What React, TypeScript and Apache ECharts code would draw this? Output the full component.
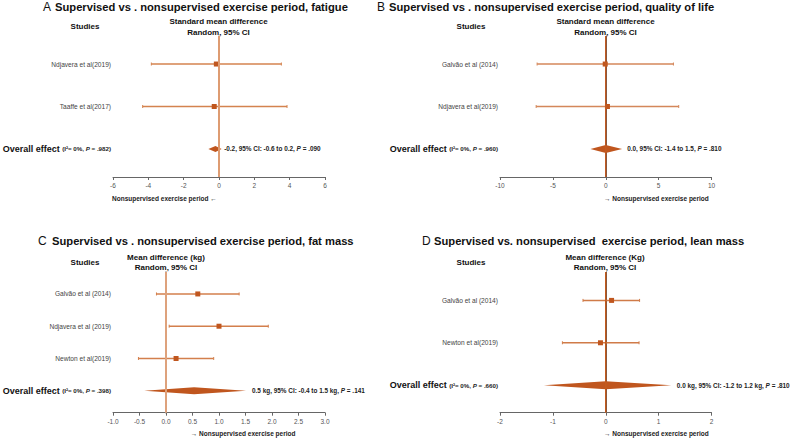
import React, { useEffect, useRef } from 'react';
import * as echarts from 'echarts';

// ---------- Data ----------
const studiesA = ['Ndjavera et al(2019)', 'Taaffe et al(2017)'];
const estA = [-0.15, -0.27];
const lowA = [-3.83, -4.32];
const highA = [3.53, 3.85];
const overallA = [-0.2, -0.6, 0.15]; // estimate, low, high
const effectA = ['-0.2, 95% CI: -0.6 to 0.2, ', ' = .090'];
const hetA = '.982';

const studiesB = ['Galvão et al (2014)', 'Ndjavera et al(2019)'];
const estB = [-0.05, 0.16];
const lowB = [-6.49, -6.58];
const highB = [6.4, 6.9];
const overallB = [0.0, -1.45, 1.55];
const effectB = ['0.0, 95% CI: -1.4 to 1.5, ', ' = .810'];
const hetB = '.960';

const studiesC = ['Galvão et al (2014)', 'Ndjavera et al (2019)', 'Newton et al(2019)'];
const estC = [0.6, 1.0, 0.19];
const lowC = [-0.18, 0.06, -0.52];
const highC = [1.38, 1.93, 0.9];
const overallC = [0.53, -0.41, 1.51];
const effectC = ['0.5 kg, 95% CI: -0.4 to 1.5 kg, ', ' = .141'];
const hetC = '.398';

const studiesD = ['Galvão et al (2014)', 'Newton et al(2019)'];
const estD = [0.11, -0.1];
const lowD = [-0.43, -0.82];
const highD = [0.64, 0.63];
const overallD = [0.0, -1.17, 1.24];
const effectD = ['0.0 kg, 95% CI: -1.2 to 1.2 kg, ', ' = .810'];
const hetD = '.660';

const ticksA = [-6, 6, 2];
const ticksB = [-10, 10, 5];
const ticksC = [-1, 3, 0.5];
const ticksD = [-2, 2, 1];

const FONT = 'Liberation Sans, Arial, Helvetica, sans-serif';
const MARK = '#c0561e';

type Panel = {
  grid: any; ticks: number[]; yMin: number; yMax: number; dec: number;
  names: string[]; est: number[]; lo: number[]; hi: number[]; overall: number[];
  effect: string[]; het: string; zeroColor: string; zeroW: number;
  yAxisColor: string; yAxisW: number; barColor: string; dh: number; gap: number;
};

const panels: Panel[] = [
  { grid: { left: 113, top: 36, width: 212, height: 141 }, ticks: ticksA, yMin: 0.34, yMax: 3.66, dec: 0,
    names: studiesA, est: estA, lo: lowA, hi: highA, overall: overallA, effect: effectA, het: hetA,
    zeroColor: '#de9c72', zeroW: 2, yAxisColor: '#a8a8a8', yAxisW: 1.5, barColor: '#d4834f', dh: 3, gap: 2.5 },
  { grid: { left: 500, top: 36, width: 211.5, height: 141 }, ticks: ticksB, yMin: 0.34, yMax: 3.66, dec: 0,
    names: studiesB, est: estB, lo: lowB, hi: highB, overall: overallB, effect: effectB, het: hetB,
    zeroColor: '#c25a22', zeroW: 1.5, yAxisColor: '#555', yAxisW: 1, barColor: '#d4875a', dh: 4, gap: 5 },
  { grid: { left: 113, top: 272, width: 212, height: 140.7 }, ticks: ticksC, yMin: 0.32, yMax: 4.68, dec: 1,
    names: studiesC, est: estC, lo: lowC, hi: highC, overall: overallC, effect: effectC, het: hetC,
    zeroColor: '#dea27c', zeroW: 2, yAxisColor: '#b5b5b5', yAxisW: 2, barColor: '#d37f4c', dh: 3.5, gap: 6 },
  { grid: { left: 500, top: 272, width: 211.5, height: 140.7 }, ticks: ticksD, yMin: 0.33, yMax: 3.65, dec: 0,
    names: studiesD, est: estD, lo: lowD, hi: highD, overall: overallD, effect: effectD, het: hetD,
    zeroColor: '#c45a1c', zeroW: 1.5, yAxisColor: '#555', yAxisW: 1, barColor: '#d07b48', dh: 4, gap: 5.5 },
];

function makeRender(p: Panel) {
  return (params: any, api: any) => {
    const row = api.value(0);
    const lo = api.value(1);
    const est = api.value(2);
    const hi = api.value(3);
    const kind = api.value(4);
    const pLo = api.coord([lo, row]);
    const pEst = api.coord([est, row]);
    const pHi = api.coord([hi, row]);
    const axisX = api.coord([p.ticks[0], row])[0];
    const y = pEst[1];
    const children: any[] = [];
    if (kind === 0) {
      children.push({ type: 'line', shape: { x1: pLo[0], y1: y, x2: pHi[0], y2: y }, style: { stroke: p.barColor, lineWidth: 1.5 } });
      children.push({ type: 'line', shape: { x1: pLo[0], y1: y - 1.5, x2: pLo[0], y2: y + 1.5 }, style: { stroke: p.barColor, lineWidth: 1 } });
      children.push({ type: 'line', shape: { x1: pHi[0], y1: y - 1.5, x2: pHi[0], y2: y + 1.5 }, style: { stroke: p.barColor, lineWidth: 1 } });
      children.push({ type: 'rect', shape: { x: pEst[0] - 2.5, y: y - 2.5, width: 5, height: 5 }, style: { fill: MARK } });
      children.push({ type: 'text', x: axisX - 2, y, style: { text: p.names[params.dataIndex], fontSize: 6.6, fontFamily: FONT, fill: '#444', align: 'right', verticalAlign: 'middle' } });
    } else {
      children.push({ type: 'polygon', shape: { points: [[pLo[0], y], [pEst[0], y - p.dh], [pHi[0], y], [pEst[0], y + p.dh]] }, style: { fill: MARK } });
      children.push({ type: 'text', x: pHi[0] + p.gap, y, style: {
        text: `{b|${p.effect[0]}}{i|P}{b|${p.effect[1]}}`, align: 'left', verticalAlign: 'middle',
        rich: {
          b: { fontSize: 6.4, fontWeight: 'bold', fontFamily: FONT, fill: '#222' },
          i: { fontSize: 6.4, fontWeight: 'bold', fontStyle: 'italic', fontFamily: FONT, fill: '#222' },
        } } });
      children.push({ type: 'text', x: axisX - 2, y, style: {
        text: `{big|Overall effect }{s|(I²= 0%, }{i|P}{s| = ${p.het})}`, align: 'right', verticalAlign: 'middle',
        rich: {
          big: { fontSize: 9, fontWeight: 'bold', fontFamily: FONT, fill: '#111' },
          s: { fontSize: 6.2, fontWeight: 'bold', fontFamily: FONT, fill: '#222' },
          i: { fontSize: 6.2, fontWeight: 'bold', fontStyle: 'italic', fontFamily: FONT, fill: '#222' },
        } } });
    }
    return { type: 'group', children };
  };
}

function makeZero(p: Panel) {
  return (params: any, api: any) => {
    const cs = params.coordSys;
    const x = api.coord([api.value(0), p.yMin])[0];
    return { type: 'line', shape: { x1: x, y1: cs.y, x2: x, y2: cs.y + cs.height }, style: { stroke: p.zeroColor, lineWidth: p.zeroW } };
  };
}

function txt(text: string, x: number, y: number, size: number, weight: string, align = 'left', fill = '#111') {
  return { type: 'text', x, y, style: { text, fontSize: size, fontWeight: weight, fontFamily: FONT, fill, align, verticalAlign: 'middle' } };
}

export default function App() {
  const ref = useRef<HTMLDivElement>(null);
  useEffect(() => {
    if (!ref.current) return;
    const chart = echarts.init(ref.current, null, { renderer: 'svg' });
    const grids: any[] = [];
    const xAxes: any[] = [];
    const yAxes: any[] = [];
    const series: any[] = [];
    panels.forEach((p, k) => {
      grids.push({ ...p.grid, containLabel: false });
      xAxes.push({
        type: 'value', gridIndex: k, min: p.ticks[0], max: p.ticks[1], interval: p.ticks[2],
        axisLine: { show: true, lineStyle: { color: '#666', width: 1 } },
        axisTick: { show: true, length: 3, lineStyle: { color: '#666' } },
        axisLabel: { fontSize: 6.5, color: '#555', fontFamily: FONT, margin: 5, formatter: (v: number) => v.toFixed(p.dec) },
        splitLine: { show: false },
      });
      yAxes.push({
        type: 'value', gridIndex: k, min: p.yMin, max: p.yMax, inverse: true,
        axisLine: { show: true, lineStyle: { color: p.yAxisColor, width: p.yAxisW } },
        axisTick: { show: false }, axisLabel: { show: false }, splitLine: { show: false },
      });
      const data: any[] = p.names.map((_, i) => [i + 1, p.lo[i], p.est[i], p.hi[i], 0]);
      data.push([p.names.length + 1, p.overall[1], p.overall[0], p.overall[2], 1]);
      series.push({ type: 'custom', xAxisIndex: k, yAxisIndex: k, renderItem: makeRender(p), data, clip: false, z: 2, encode: { x: [1, 2, 3], y: 0 } });
      series.push({ type: 'custom', xAxisIndex: k, yAxisIndex: k, renderItem: makeZero(p), data: [[0]], z: 5, encode: { x: 0 } });
    });

    const graphic: any[] = [
      txt('A', 43, 7, 12, 'normal'),
      txt('Supervised vs . nonsupervised exercise period, fatigue', 55, 7, 11.2, 'bold'),
      txt('B', 377, 7, 12, 'normal'),
      txt('Supervised vs . nonsupervised exercise period, quality of life', 389, 7, 11.2, 'bold'),
      txt('C', 38, 241, 12, 'normal'),
      txt('Supervised vs . nonsupervised exercise period, fat mass', 52, 241, 11.2, 'bold'),
      txt('D', 422, 241, 12, 'normal'),
      txt('Supervised vs. nonsupervised  exercise period, lean mass', 434, 241, 11.2, 'bold'),
      txt('Studies', 85, 26, 8, 'bold', 'center'),
      txt('Standard mean difference', 218.5, 21.5, 8, 'bold', 'center'),
      txt('Random, 95% CI', 218.5, 32, 8, 'bold', 'center'),
      txt('Studies', 471, 26, 8, 'bold', 'center'),
      txt('Standard mean difference', 605.5, 21.5, 8, 'bold', 'center'),
      txt('Random, 95% CI', 605.5, 32, 8, 'bold', 'center'),
      txt('Studies', 85, 262, 8, 'bold', 'center'),
      txt('Mean difference (kg)', 166, 257.7, 8, 'bold', 'center'),
      txt('Random, 95% CI', 166, 267.5, 8, 'bold', 'center'),
      txt('Studies', 471, 262, 8, 'bold', 'center'),
      txt('Mean difference (Kg)', 605, 257.7, 8, 'bold', 'center'),
      txt('Random, 95% CI', 605, 267.5, 8, 'bold', 'center'),
      txt('Nonsupervised exercise period ←', 112, 198, 6.5, 'bold', 'left', '#222'),
      txt('→ Nonsupervised exercise period', 604, 198, 6.5, 'bold', 'left', '#222'),
      txt('→ Nonsupervised exercise period', 190.7, 433, 6.5, 'bold', 'left', '#222'),
      txt('→ Nonsupervised exercise period', 604, 433, 6.5, 'bold', 'left', '#222'),
    ];

    chart.setOption({
      animation: false,
      backgroundColor: '#ffffff',
      grid: grids,
      xAxis: xAxes,
      yAxis: yAxes,
      series,
      graphic,
    });
    return () => chart.dispose();
  }, []);
  return <div ref={ref} style={{ position: 'absolute', left: 0, top: 0, width: 791, height: 438 }} />;
}
